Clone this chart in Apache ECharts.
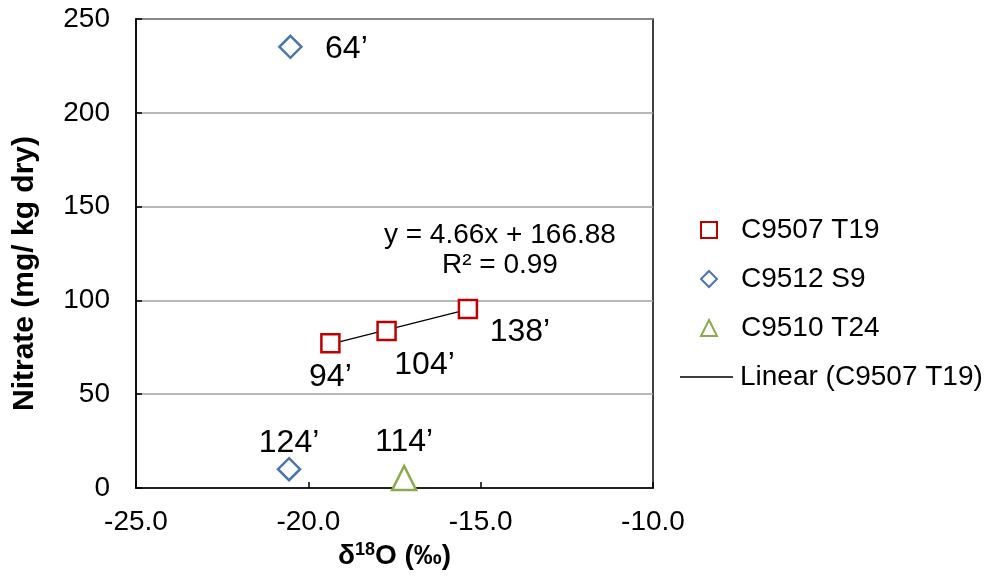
<!DOCTYPE html>
<html>
<head>
<meta charset="utf-8">
<script src="https://cdn.jsdelivr.net/npm/echarts@6/dist/echarts.min.js"></script>
<style>
  html, body { margin: 0; padding: 0; background: #fff; }
  #main { width: 987px; height: 582px; }
</style>
</head>
<body>
<div id="main"></div>
<script>
    'use strict';

    // values
    var t19Points = [[-19.36, 77.1], [-17.73, 83.7], [-15.37, 95.4]];
    var t19Labels = ['94’', '104’', '138’'];
    var s9Points = [[-20.52, 235.2], [-20.56, 10.0]];
    var s9Labels = ['64’', '124’'];
    var t24Points = [[-17.22, 5.3]];
    var t24Labels = ['114’'];
    var trendPoints = [[-19.36, 76.7], [-15.37, 95.2]];
    var trendText = 'y = 4.66x + 166.88\nR² = 0.99';
    var seriesNames = ['C9507 T19', 'C9512 S9', 'C9510 T24', 'Linear (C9507 T19)'];

    // label offsets from point centre (px)
    var t19Offsets = [[0, 34], [38, 34], [52, 23]];
    var s9Offsets = [[56, 2], [0, -26]];
    var t24Offsets = [[0, -36]];

    var FONT = '"Liberation Sans", Arial, sans-serif';

    function pointData(points, labels, offsets) {
        return points.map(function (p, i) {
            return {
                value: p,
                label: {
                    show: true,
                    position: 'inside',
                    offset: offsets[i],
                    formatter: labels[i],
                    fontSize: 32,
                    color: '#000',
                    fontFamily: FONT
                }
            };
        });
    }

    var chart = echarts.init(document.getElementById('main'));

    var option = {
        backgroundColor: '#fff',
        animation: false,
        textStyle: { fontFamily: FONT },
        grid: {
            left: 136, top: 19, right: 334, bottom: 94,
            show: true, borderColor: '#000', borderWidth: 1.5
        },
        legend: [{
            data: seriesNames.slice(0, 3),
            orient: 'vertical',
            left: 695, top: 211,
            itemWidth: 16, itemHeight: 16, itemGap: 21,
            textStyle: { fontSize: 28, color: '#000', fontFamily: FONT, padding: [0, 0, 0, 19] }
        }, {
            data: [seriesNames[3]],
            orient: 'vertical',
            left: 675, top: 358,
            icon: 'rect',
            itemWidth: 53, itemHeight: 1.5,
            textStyle: { fontSize: 28, color: '#000', fontFamily: FONT, padding: [0, 0, 0, 2] }
        }],
        xAxis: {
            type: 'value',
            min: -25, max: -10, interval: 5,
            name: '{d|δ}{s|18}{d|O (‰)}',
            nameLocation: 'middle',
            nameGap: 48,
            nameTextStyle: {
                rich: {
                    d: { fontSize: 28, fontWeight: 'bold', color: '#000', fontFamily: FONT },
                    s: { fontSize: 18, fontWeight: 'bold', color: '#000', fontFamily: FONT, verticalAlign: 'top', padding: [0, 0, 12, 0] }
                }
            },
            axisLine: { lineStyle: { color: '#000', width: 1.5 } },
            axisTick: { inside: true, length: 6, lineStyle: { color: '#000', width: 1.5 } },
            axisLabel: {
                fontSize: 28, color: '#000', margin: 20,
                formatter: function (v) { return v.toFixed(1); }
            },
            splitLine: { show: false }
        },
        yAxis: {
            type: 'value',
            min: 0, max: 250, interval: 50,
            name: 'Nitrate (mg/ kg dry)',
            nameLocation: 'middle',
            nameGap: 96,
            nameTextStyle: { fontSize: 30, fontWeight: 'bold', color: '#000', fontFamily: FONT, padding: [0, 40, 0, 0] },
            axisLine: { lineStyle: { color: '#000', width: 1.5 } },
            axisTick: { inside: true, length: 6, lineStyle: { color: '#000', width: 1.5 } },
            axisLabel: { fontSize: 28, color: '#000', margin: 26 },
            splitLine: { lineStyle: { color: '#a0a0a0', width: 1.5 } }
        },
        series: [{
            name: seriesNames[3],
            type: 'line',
            data: trendPoints.map(function (p, i) {
                var d = { value: p };
                if (i === trendPoints.length - 1) {
                    d.label = {
                        show: true,
                        position: 'inside',
                        offset: [32, -59],
                        formatter: trendText,
                        align: 'center',
                        fontSize: 28,
                        lineHeight: 30,
                        color: '#000',
                        fontFamily: FONT
                    };
                }
                return d;
            }),
            showSymbol: true,
            symbol: 'circle',
            symbolSize: 0,
            itemStyle: { color: '#000' },
            lineStyle: { color: '#000', width: 1.2 },
            z: 1
        }, {
            name: seriesNames[0],
            type: 'scatter',
            symbol: 'rect',
            symbolSize: 18,
            itemStyle: { color: '#fff', borderColor: '#c00000', borderWidth: 2.5, opacity: 1 },
            data: pointData(t19Points, t19Labels, t19Offsets),
            z: 3
        }, {
            name: seriesNames[1],
            type: 'scatter',
            symbol: 'diamond',
            symbolSize: 22,
            itemStyle: { color: '#fff', borderColor: '#4a76b0', borderWidth: 2.5, opacity: 1 },
            data: pointData(s9Points, s9Labels, s9Offsets),
            z: 3
        }, {
            name: seriesNames[2],
            type: 'scatter',
            symbol: 'triangle',
            symbolSize: 24,
            itemStyle: { color: '#fff', borderColor: '#8aab4d', borderWidth: 2.5, opacity: 1 },
            data: pointData(t24Points, t24Labels, t24Offsets),
            z: 3
        }]
    };

    chart.setOption(option);
</script>
</body>
</html>
